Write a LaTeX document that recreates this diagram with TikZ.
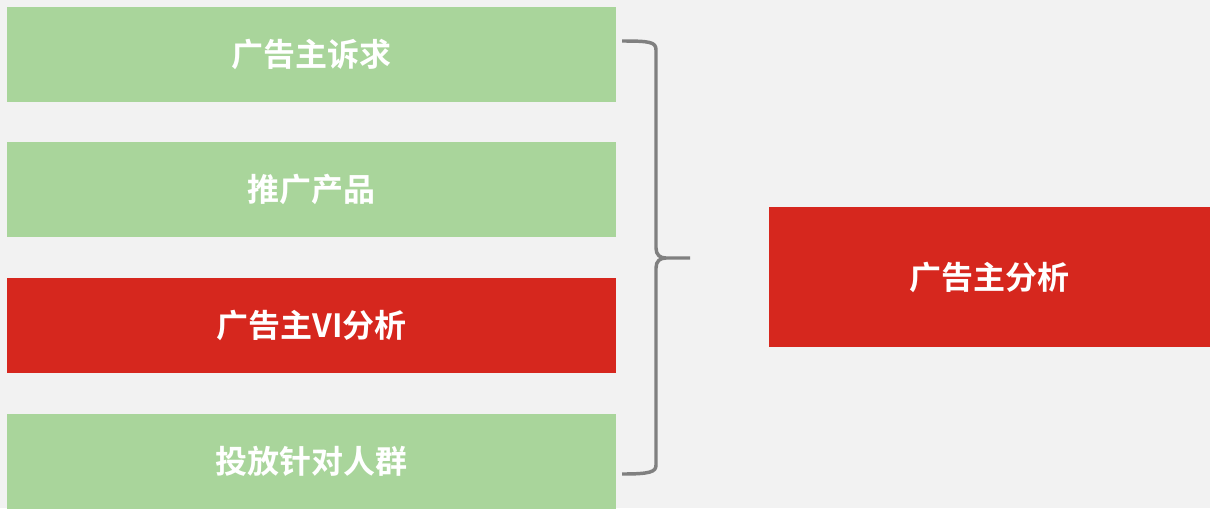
\documentclass[tikz,border=0pt]{standalone}
\usepackage{fontspec}
\newfontfamily\cjk{Noto Sans CJK SC Bold}
\definecolor{bggray}{HTML}{F2F2F2}
\definecolor{leafgreen}{HTML}{A9D59B}
\definecolor{adred}{HTML}{D6271E}
\definecolor{bracegray}{HTML}{808080}
\begin{document}
\begin{tikzpicture}
		[x=0.75pt, y=-0.75pt,
		item/.style={
			rectangle,
			fill=leafgreen,
			text=white,
			font=\cjk\fontsize{24}{28}\selectfont,
			minimum width=609*0.75pt,
			minimum height=95*0.75pt,
			inner sep=0pt,
			anchor=north west
		},
		hot/.style={item,fill=adred},
		result/.style={hot,minimum width=441*0.75pt,minimum height=140*0.75pt}]
		\fill[bggray] (0,0) rectangle (1210,508);
		\useasboundingbox (0,0) rectangle (1210,508);
		\node[item] (appeal) at (7,7) {广告主诉求};
		\node[item] (product) at (7,142) {推广产品};
		\node[hot] (vi) at (7,278) {广告主VI分析};
		\node[item] (audience) at (7,414) {投放针对人群};
		\node[result] (analysis) at (769,207) {广告主分析};
		% brace
		\coordinate (top) at (622,41);
		\coordinate (bottom) at (622,474);
		\coordinate (tip) at (690,258);
		\draw[bracegray, line width=2.6pt, line cap=butt]
			(top) .. controls (650,41) and (656,42) .. (656,50)
			-- (656,248) .. controls (656,255) and (660,258) .. (666,258)
			-- (tip)
			(666,258) .. controls (660,258) and (656,261) .. (656,268)
			-- (656,465) .. controls (656,472) and (650,474) .. (bottom);
\end{tikzpicture}
\end{document}
